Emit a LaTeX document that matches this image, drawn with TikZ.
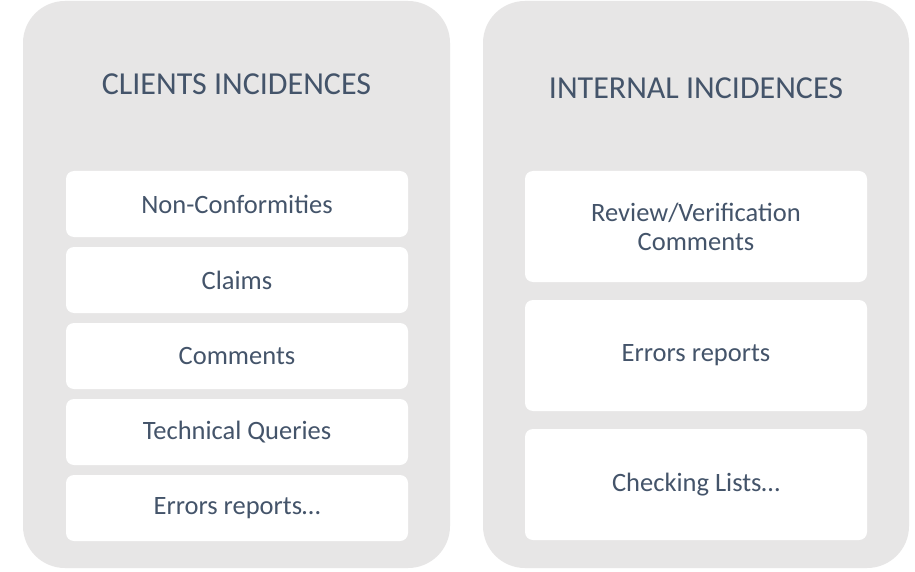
\documentclass[tikz,border=0pt]{standalone}
\usepackage{fontspec}
\setmainfont{Carlito}
\definecolor{panelgray}{RGB}{231,230,230}
\definecolor{txtblue}{RGB}{68,84,106}
\begin{document}
\begin{tikzpicture}[x=1pt,y=-1pt,
  panel/.style={rectangle,fill=panelgray,rounded corners=42pt,inner sep=0pt,minimum width=427pt,minimum height=567pt},
  ttl/.style={text=txtblue,font=\fontsize{32}{37}\selectfont,inner sep=0pt},
  itembox/.style={rectangle,fill=white,rounded corners=8pt,inner sep=0pt,minimum width=342pt,text=txtblue,font=\fontsize{26.5}{29}\selectfont,align=center},
  short/.style={itembox,minimum height=66pt},
  tall/.style={itembox,minimum height=111pt}]
\useasboundingbox[fill=white] (0,0) rectangle (915,572);
\node[panel] (lp) at (236.5,284.5) {};
\node[panel,minimum width=426pt] (rp) at (696,284.5) {};
\node[ttl] (lt) at (236.5,84.5) {CLIENTS INCIDENCES};
\node[ttl] (rt) at (696,88) {INTERNAL INCIDENCES};
\node[short] (l1) at (237,204) {Non-Conformities};
\node[short] (l2) at (237,280) {Claims};
\node[short] (l3) at (237,356) {Comments};
\node[short] (l4) at (237,432) {Technical Queries};
\node[short] (l5) at (237,508) {Errors reports…};
\node[tall] (r1) at (696,226.5) {Review/Verification\\Comments};
\node[tall] (r2) at (696,355.5) {Errors reports};
\node[tall] (r3) at (696,484.5) {Checking Lists…};
\end{tikzpicture}
\end{document}
